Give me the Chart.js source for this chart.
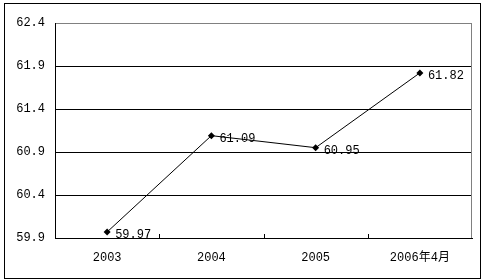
<!DOCTYPE html>
<html>
<head>
<meta charset="utf-8">
<script src="https://cdn.jsdelivr.net/npm/chart.js@4/dist/chart.umd.min.js"></script>
<style>
  html, body { margin: 0; padding: 0; background: #fff; }
  #wrap { width: 483px; height: 280px; }
</style>
</head>
<body>
<div id="wrap"><canvas id="chart" width="483" height="280"></canvas></div>
<script>
let years = ['2003', '2004', '2005', '2006年4月'];
let values = [59.97, 61.09, 60.95, 61.82];
let yMin = 59.9;
let yMax = 62.4;
let yStep = 0.5;

let fontFamily = '"Liberation Mono", "Noto Sans CJK SC", monospace';

// outer frame, gray top/right plot border, small inward ticks, value labels
let extras = {
    id: 'extras',
    beforeDraw(chart) {
        let ctx = chart.ctx;
        ctx.save();
        ctx.fillStyle = '#fff';
        ctx.fillRect(0, 0, chart.width, chart.height);
        ctx.strokeStyle = '#000';
        ctx.lineWidth = 1;
        ctx.strokeRect(4.5, 3.5, 476, 275);
        ctx.restore();
    },
    afterDraw(chart) {
        let ctx = chart.ctx;
        let area = chart.chartArea;
        let x = chart.scales.x;
        ctx.save();
        ctx.strokeStyle = '#808080';
        ctx.lineWidth = 1;
        ctx.beginPath();
        ctx.moveTo(Math.round(area.right) - 0.5, Math.round(area.top) + 0.5);
        ctx.lineTo(Math.round(area.right) - 0.5, Math.round(area.bottom));
        ctx.stroke();

        ctx.strokeStyle = '#000';
        ctx.beginPath();
        for (let i = 0; i < years.length - 1; i++) {
            let bx = Math.round((x.getPixelForTick(i) + x.getPixelForTick(i + 1)) / 2) + 0.5;
            ctx.moveTo(bx, Math.round(area.bottom));
            ctx.lineTo(bx, Math.round(area.bottom) - 4);
        }
        ctx.stroke();

        let meta = chart.getDatasetMeta(0);
        ctx.fillStyle = '#000';
        ctx.font = '12px ' + fontFamily;
        ctx.textAlign = 'left';
        ctx.textBaseline = 'middle';
        meta.data.forEach((pt, i) => {
            ctx.fillText(values[i].toFixed(2), pt.x + 8, pt.y + 3);
        });
        ctx.restore();
    }
};

let ctx = document.getElementById('chart').getContext('2d');
let chart = new Chart(ctx, {
    type: 'line',
    data: {
        labels: years,
        datasets: [{
            data: values,
            borderColor: '#000',
            borderWidth: 1,
            backgroundColor: '#000',
            pointStyle: 'rectRot',
            pointRadius: 3.5,
            pointBorderWidth: 0,
            pointBackgroundColor: '#000',
            tension: 0
        }]
    },
    options: {
        responsive: false,
        animation: false,
        devicePixelRatio: 1,
        layout: { padding: { left: 0, top: 23, right: 11, bottom: 0 } },
        plugins: {
            legend: { display: false },
            tooltip: { enabled: false }
        },
        scales: {
            x: {
                type: 'category',
                offset: true,
                grid: { display: false, drawTicks: false },
                border: { display: true, color: '#000', width: 1 },
                ticks: {
                    color: '#000',
                    padding: 13,
                    maxRotation: 0,
                    font: { family: fontFamily, size: 12 }
                },
                afterFit(scale) { scale.height = 42; }
            },
            y: {
                min: yMin,
                max: yMax,
                grid: {
                    drawTicks: false,
                    color: (c) => (c.tick && Math.abs(c.tick.value - yMax) < 1e-6) ? '#808080' : '#000',
                    lineWidth: 1
                },
                border: { display: true, color: '#000', width: 1 },
                ticks: {
                    stepSize: yStep,
                    color: '#000',
                    padding: 10,
                    font: { family: fontFamily, size: 12 },
                    callback: (v) => Number(v).toFixed(1)
                },
                afterFit(scale) { scale.width = 55; }
            }
        }
    },
    plugins: [extras]
});
</script>
</body>
</html>
